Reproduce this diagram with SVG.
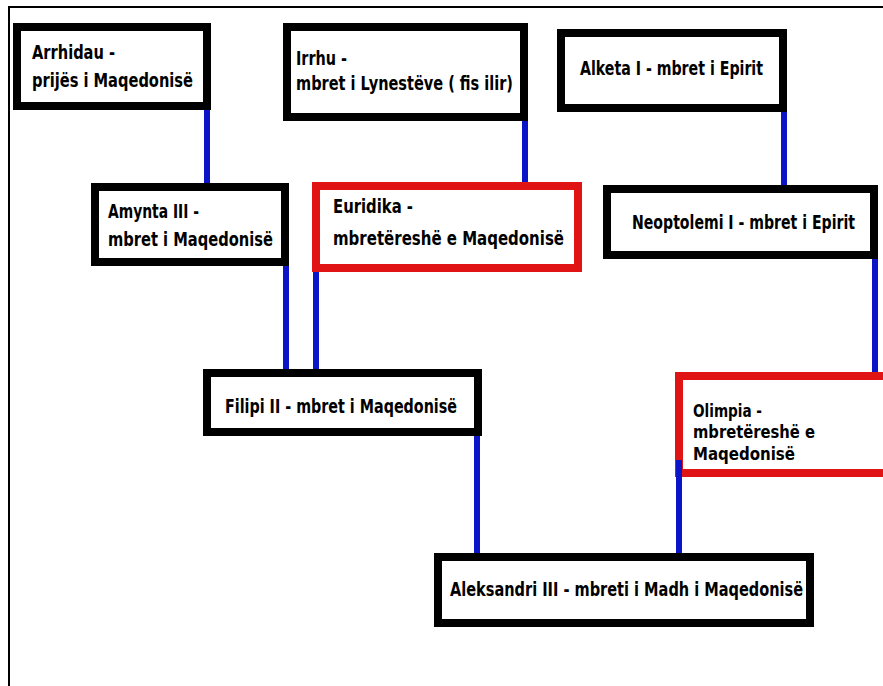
<svg xmlns="http://www.w3.org/2000/svg" width="883" height="686" viewBox="0 0 883 686">
<style>
.frame{stroke:#000;stroke-width:2;fill:none}
.box{fill:#fff;stroke:#000;stroke-width:8}
.rbox{fill:#fff;stroke:#e01414;stroke-width:8}
.link{stroke:#0c14c8;stroke-width:6;fill:none}
text{font-family:"Liberation Sans Narrow","DejaVu Sans Condensed","Liberation Sans",sans-serif;font-weight:bold;font-size:19px;fill:#000}
.sm{font-size:18px}
</style>
<rect x="0" y="0" width="883" height="686" fill="#fff"/>
<g id="frame">
<line class="frame" x1="8" y1="7" x2="883" y2="7"/>
<line class="frame" x1="9" y1="6" x2="9" y2="686"/>
</g>
<g id="n-arrhidau">
<rect class="box" x="17" y="27" width="190" height="79"/>
<text x="32" y="59" textLength="83" lengthAdjust="spacingAndGlyphs">Arrhidau -</text>
<text x="32" y="87" textLength="161" lengthAdjust="spacingAndGlyphs">prijës i Maqedonisë</text>
</g>
<g id="n-irrhu">
<rect class="box" x="287" y="27" width="237" height="90"/>
<text x="296" y="65" textLength="51" lengthAdjust="spacingAndGlyphs">Irrhu -</text>
<text x="296" y="90" textLength="217" lengthAdjust="spacingAndGlyphs">mbret i Lynestëve ( fis ilir)</text>
</g>
<g id="n-alketa">
<rect class="box" x="561" y="33" width="222" height="75"/>
<text x="580" y="75" textLength="183" lengthAdjust="spacingAndGlyphs">Alketa I - mbret i Epirit</text>
</g>
<g id="n-amynta">
<rect class="box" x="95" y="187" width="190" height="75"/>
<text x="108" y="218" textLength="91" lengthAdjust="spacingAndGlyphs">Amynta III -</text>
<text x="108" y="246" textLength="165" lengthAdjust="spacingAndGlyphs">mbret i Maqedonisë</text>
</g>
<g id="n-euridika">
<rect class="rbox" x="316" y="186" width="262" height="82"/>
<text x="333" y="213" textLength="80" lengthAdjust="spacingAndGlyphs">Euridika -</text>
<text x="333" y="245" textLength="231" lengthAdjust="spacingAndGlyphs">mbretëreshë e Maqedonisë</text>
</g>
<g id="n-neoptolemi">
<rect class="box" x="607" y="189" width="267" height="66"/>
<text x="632" y="229" textLength="223" lengthAdjust="spacingAndGlyphs">Neoptolemi I - mbret i Epirit</text>
</g>
<g id="n-filipi">
<rect class="box" x="207" y="373" width="271" height="59"/>
<text x="225" y="413" textLength="232" lengthAdjust="spacingAndGlyphs">Filipi II - mbret i Maqedonisë</text>
</g>
<g id="n-olimpia">
<rect class="rbox" x="679" y="376" width="220" height="97"/>
<text class="sm" x="693" y="417" textLength="69" lengthAdjust="spacingAndGlyphs">Olimpia -</text>
<text class="sm" x="693" y="438" textLength="122" lengthAdjust="spacingAndGlyphs">mbretëreshë e</text>
<text class="sm" x="693" y="460" textLength="102" lengthAdjust="spacingAndGlyphs">Maqedonisë</text>
</g>
<g id="n-aleksandri">
<rect class="box" x="438" y="557" width="372" height="66"/>
<text x="450" y="596" textLength="353" lengthAdjust="spacingAndGlyphs">Aleksandri III - mbreti i Madh i Maqedonisë</text>
</g>
<g id="connectors">
<line class="link" x1="207" y1="110" x2="207" y2="183"/>
<line class="link" x1="525" y1="121" x2="525" y2="182"/>
<line class="link" x1="784" y1="112" x2="784" y2="185"/>
<line class="link" x1="286" y1="266" x2="286" y2="369"/>
<line class="link" x1="316" y1="272" x2="316" y2="369"/>
<line class="link" x1="875" y1="259" x2="875" y2="372"/>
<line class="link" x1="477" y1="436" x2="477" y2="553"/>
<line class="link" x1="679" y1="460" x2="679" y2="553"/>
</g>
</svg>
